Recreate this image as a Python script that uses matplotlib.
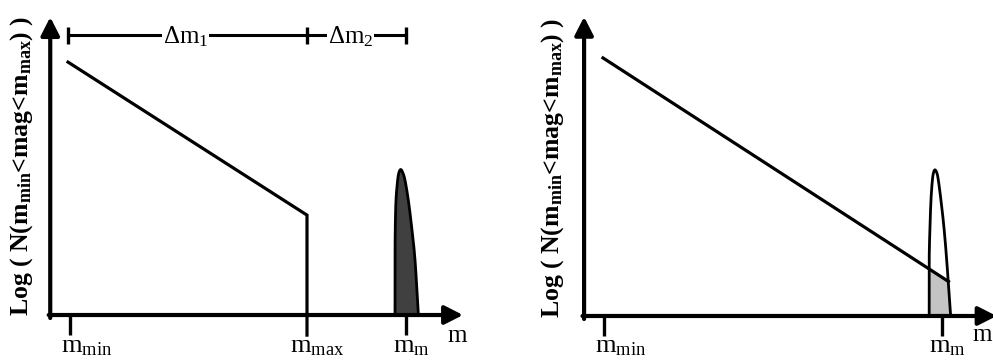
import numpy as np
import matplotlib
matplotlib.use("Agg")
import matplotlib.pyplot as plt

plt.rcParams['font.family'] = ['Liberation Serif', 'DejaVu Serif']
plt.rcParams['mathtext.fontset'] = 'custom'
plt.rcParams['mathtext.rm'] = 'Liberation Serif'
plt.rcParams['mathtext.it'] = 'Liberation Serif:italic'
plt.rcParams['mathtext.bf'] = 'Liberation Serif:bold'

# ---------------- data (magnitude units, log N units) ----------------
m_min = 1.0
m_max = 13.0
m_m = 18.0

# left panel: power-law line truncated at m_max
left_line_x = [0.9, 13.0]
left_line_y = [8.43, 3.33]
left_peak_x = [17.456, 17.456, 17.47, 17.506, 17.59, 17.66, 17.745, 17.84, 17.96, 18.13, 18.30, 18.47, 18.64]
left_peak_y = [0.00, 1.83, 2.93, 3.83, 4.50, 4.76, 4.85, 4.76, 4.50, 3.83, 2.93, 1.83, 0.00]

# right panel: power-law line extending to the peak
right_line_x = [0.95, 18.33]
right_line_y = [8.60, 1.15]
right_peak_x = [17.36, 17.36, 17.40, 17.45, 17.52, 17.58, 17.65, 17.74, 17.82, 17.95, 18.10, 18.24, 18.44]
right_peak_y = [0.00, 1.87, 2.97, 3.87, 4.53, 4.78, 4.87, 4.78, 4.53, 3.87, 2.97, 1.87, 0.00]

delta_y = 9.33
delta_labels = [r'$\Delta\mathrm{m}_{1}$', r'$\Delta\mathrm{m}_{2}$']
tick_labels_left = [r'$\mathrm{m}_{\mathrm{min}}$', r'$\mathrm{m}_{\mathrm{max}}$', r'$\mathrm{m}_{\mathrm{m}}$']
tick_labels_right = [r'$\mathrm{m}_{\mathrm{min}}$', r'$\mathrm{m}_{\mathrm{m}}$']
ylabel = r'Log ( N(m$_{\mathbf{min}}$<mag<m$_{\mathbf{max}}$) )'


def smooth(xs, ys, n=20):
    """Catmull-Rom curve through the read points."""
    pts = np.column_stack([xs, ys]).astype(float)
    p = np.vstack([pts[0], pts, pts[-1]])
    out = []
    t = np.linspace(0, 1, n, endpoint=False)[:, None]
    for i in range(1, len(p) - 2):
        p0, p1, p2, p3 = p[i - 1], p[i], p[i + 1], p[i + 2]
        seg = 0.5 * ((2 * p1) + (-p0 + p2) * t + (2 * p0 - 5 * p1 + 4 * p2 - p3) * t ** 2
                     + (-p0 + 3 * p1 - 3 * p2 + p3) * t ** 3)
        out.append(seg)
    out.append(pts[-1][None, :])
    c = np.vstack(out)
    return c[:, 0], c[:, 1]


W, H = 993, 364
fig = plt.figure(figsize=(W / 100, H / 100), dpi=100)
fig.patch.set_facecolor('white')

axL = fig.add_axes([0, 0, 490 / W, 1])
axR = fig.add_axes([500 / W, 0, 493 / W, 1])
axL.set_xlim(-2.544, 22.266)
axL.set_ylim(-1.633, 10.5)
axR.set_xlim(-4.23, 20.57)
axR.set_ylim(-1.6, 10.53)
for ax in (axL, axR):
    ax.axis('off')

AX_LW = 3.0
ARW = dict(arrowstyle='-|>,head_length=0.55,head_width=0.28', lw=AX_LW, color='black',
           shrinkA=0, shrinkB=0, mutation_scale=20)


def draw_axes(ax, xtip, ytip, xtick_vals):
    ax.annotate('', xy=(xtip, 0), xytext=(-0.08, 0), arrowprops=ARW, annotation_clip=False)
    ax.annotate('', xy=(0, ytip), xytext=(0, -0.1), arrowprops=ARW, annotation_clip=False)
    for xv in xtick_vals:
        ax.plot([xv, xv], [0, -0.67], color='black', lw=2.4, solid_capstyle='butt')


# ---------------- left panel ----------------
sx, sy = smooth(left_peak_x, left_peak_y)
axL.fill(sx, sy, color='#404040', lw=0)
axL.plot(sx, sy, color='black', lw=2.0)
axL.plot(left_line_x + [m_max], left_line_y + [-0.67], color='black', lw=2.3,
         solid_joinstyle='miter')
draw_axes(axL, 20.9, 9.93, [m_min, m_m])

# delta-m bar
axL.plot([left_line_x[0], m_m], [delta_y, delta_y], color='black', lw=2.2)
for xv in (left_line_x[0], m_max, m_m):
    axL.plot([xv, xv], [delta_y - 0.28, delta_y + 0.28], color='black', lw=2.4,
             solid_capstyle='butt')
axL.text((left_line_x[0] + m_max) / 2 - 0.1, delta_y - 0.05, delta_labels[0], fontsize=18,
         ha='center', va='center',
         bbox=dict(facecolor='white', edgecolor='none', pad=0.3))
axL.text((m_max + m_m) / 2 - 0.3, delta_y - 0.05, delta_labels[1], fontsize=18,
         ha='center', va='center',
         bbox=dict(facecolor='white', edgecolor='none', pad=0.3))

for xv, lab, dx in zip([m_min, m_max, m_m], tick_labels_left, [-0.45, -0.87, -0.66]):
    axL.text(xv + dx, -1.23, lab, fontsize=19, ha='left', va='baseline')
axL.text(20.1, -0.9, 'm', fontsize=18, ha='left', va='baseline')
axL.text(-1.43, 4.97, ylabel, fontsize=18.5, fontweight='bold', rotation=90,
         ha='center', va='center')

# ---------------- right panel ----------------
slope = (right_line_y[1] - right_line_y[0]) / (right_line_x[1] - right_line_x[0])
fx = np.linspace(sx.min(), sx.max(), 10)
rx, ry = smooth(right_peak_x, right_peak_y)
fx = np.linspace(rx.min(), rx.max(), 400)
pk = np.interp(fx, rx, ry)
ln = right_line_y[0] + slope * (fx - right_line_x[0])
axR.fill_between(fx, 0, np.minimum(pk, ln), color='#c4c4c4', lw=0)
axR.plot(rx, ry, color='black', lw=2.0)
axR.plot(right_line_x, right_line_y, color='black', lw=2.3)
draw_axes(axR, 20.75, 9.97, [m_min, m_m])

for xv, lab, dx in zip([m_min, m_m], tick_labels_right, [-0.45, -0.66]):
    axR.text(xv + dx, -1.2, lab, fontsize=19, ha='left', va='baseline')
axR.text(20.5, -0.83, 'm', fontsize=18, ha='right', va='baseline')
axR.text(-1.61, 4.93, ylabel, fontsize=18.5, fontweight='bold', rotation=90,
         ha='center', va='center')

fig.savefig('out.png', dpi=100, facecolor='white')
